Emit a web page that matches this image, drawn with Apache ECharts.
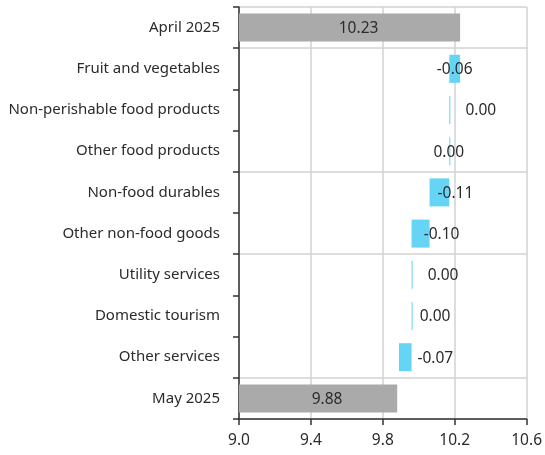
<!DOCTYPE html>
<html>
<head>
<meta charset="utf-8">
<script src="https://cdn.jsdelivr.net/npm/echarts@6/dist/echarts.min.js"></script>
<style>
  html, body { margin: 0; padding: 0; background: #fff; }
  #chart { width: 545px; height: 455px; }
</style>
</head>
<body>
<div id="chart"></div>
<script>
// Inflation contributions, April to May 2025 (percentage points)
const categories = [
  'April 2025',
  'Fruit and vegetables',
  'Non-perishable food products',
  'Other food products',
  'Non-food durables',
  'Other non-food goods',
  'Utility services',
  'Domestic tourism',
  'Other services',
  'May 2025'
];
const startTotal = 10.23;
const endTotal = 9.88;
// changes for the categories between the two totals
const changes = [-0.06, 0.00, 0.00, -0.11, -0.10, 0.00, 0.00, -0.07];

const xTicks = { min: 9.0, max: 10.6, step: 0.4 };

// horizontal pixel nudges for the change labels (label layout only)
const changeLabelNudge = [0, 31, -1, 16, 21, 31, 23, 30];

const GREY = '#a9aaa9';
const BLUE = '#66d4f4';
const TEXT = '#2b2b2b';
const FONT = '"Noto Sans", sans-serif';

// running level -> invisible base + visible change segment
const baseData = [null];
const changeData = [null];
const totalData = [startTotal];
let level = startTotal;
changes.forEach((d, i) => {
  const next = level + d;
  baseData.push(+Math.min(level, next).toFixed(4));
  changeData.push({
    value: +Math.abs(d).toFixed(4),
    label: { offset: [changeLabelNudge[i], 1] }
  });
  totalData.push(null);
  level = next;
});
baseData.push(null);
changeData.push(null);
totalData.push(endTotal);

const separatorIdx = [0, 1, 4, 6, 9];

const chart = echarts.init(document.getElementById('chart'), null, { renderer: 'canvas' });
chart.setOption({
  animation: false,
  textStyle: { fontFamily: FONT },
  grid: { left: 239, right: 17, top: 7, bottom: 36, containLabel: false },
  xAxis: {
    type: 'value',
    min: xTicks.min,
    max: xTicks.max,
    interval: xTicks.step,
    axisLine: { show: true, lineStyle: { color: '#333', width: 1.5 } },
    axisTick: { show: true, length: 6, lineStyle: { color: '#333', width: 1.5 } },
    axisLabel: {
      color: TEXT, fontSize: 15.5, fontFamily: FONT, margin: 14,
      formatter: v => v.toFixed(1)
    },
    splitLine: { show: true, lineStyle: { color: '#d2d2d2', width: 1.5 } }
  },
  yAxis: {
    type: 'category',
    inverse: true,
    data: categories,
    axisLine: { show: true, lineStyle: { color: '#333', width: 1.5 } },
    axisTick: { show: true, length: 6, lineStyle: { color: '#333', width: 1.5 } },
    axisLabel: { color: TEXT, fontSize: 15, fontFamily: FONT, margin: 19 },
    splitLine: {
      show: true,
      interval: (idx) => separatorIdx.includes(idx),
      lineStyle: { color: '#d2d2d2', width: 1.5 }
    }
  },
  series: [
    {
      name: 'base',
      type: 'bar',
      stack: 'w',
      barWidth: 28,
      silent: true,
      itemStyle: { color: 'transparent' },
      data: baseData
    },
    {
      name: 'change',
      type: 'bar',
      stack: 'w',
      barWidth: 28,
      barMinHeight: 1,
      itemStyle: { color: BLUE },
      label: {
        show: true,
        position: 'inside',
        color: TEXT,
        fontSize: 15.5,
        fontFamily: FONT,
        formatter: p => changes[p.dataIndex - 1].toFixed(2)
      },
      data: changeData
    },
    {
      name: 'total',
      type: 'bar',
      stack: 'w',
      barWidth: 28,
      itemStyle: { color: GREY },
      label: {
        show: true,
        position: 'inside',
        offset: [9, 1],
        color: TEXT,
        fontSize: 15.5,
        fontFamily: FONT,
        formatter: p => p.value.toFixed(2)
      },
      data: totalData
    }
  ]
});
</script>
</body>
</html>
